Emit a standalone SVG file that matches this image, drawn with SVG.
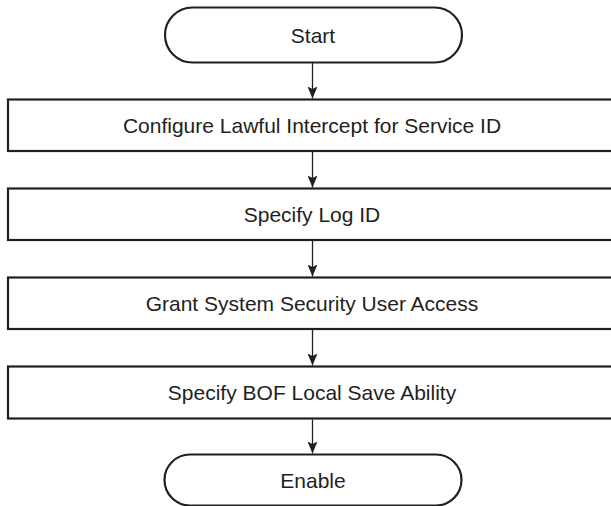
<svg xmlns="http://www.w3.org/2000/svg" width="611" height="506" viewBox="0 0 611 506">
<style>
.shape{fill:#fff;stroke:#231f20;stroke-width:2.2}
.lbl{font-family:"Liberation Sans",Arial,sans-serif;font-size:21px;fill:#231f20;text-anchor:middle}
.conn{stroke:#231f20;stroke-width:1.3;fill:none}
</style>
<defs>
<marker id="ah" markerWidth="12" markerHeight="10" refX="12" refY="5" orient="auto" markerUnits="userSpaceOnUse" viewBox="0 0 12 10">
<path d="M0,0 L12,5 L0,10 L2.5,5 Z" fill="#231f20"/>
</marker>
</defs>
<rect width="611" height="506" fill="#fff"/>
<g id="start"><rect class="shape" x="165" y="7.5" width="297" height="55" rx="27.5"/><text class="lbl" x="313" y="42.5">Start</text></g>
<g id="configure"><rect class="shape" x="8" y="99.5" width="610" height="51.5"/><text class="lbl" x="312" y="132.5">Configure Lawful Intercept for Service ID</text></g>
<g id="logid"><rect class="shape" x="8" y="188.5" width="610" height="51.5"/><text class="lbl" x="312" y="221.5">Specify Log ID</text></g>
<g id="grant"><rect class="shape" x="8" y="277.5" width="610" height="51.5"/><text class="lbl" x="312" y="310.5">Grant System Security User Access</text></g>
<g id="bof"><rect class="shape" x="8" y="366.5" width="610" height="52"/><text class="lbl" x="312" y="399.5">Specify BOF Local Save Ability</text></g>
<g id="enable"><rect class="shape" x="164.5" y="454.5" width="297" height="51" rx="25.5"/><text class="lbl" x="313" y="487.5">Enable</text></g>
<g id="connectors">
<line class="conn" x1="312.5" y1="63" x2="312.5" y2="98.5" marker-end="url(#ah)"/>
<line class="conn" x1="312.5" y1="152" x2="312.5" y2="187.5" marker-end="url(#ah)"/>
<line class="conn" x1="312.5" y1="241" x2="312.5" y2="276.5" marker-end="url(#ah)"/>
<line class="conn" x1="312.5" y1="330" x2="312.5" y2="365.5" marker-end="url(#ah)"/>
<line class="conn" x1="312.5" y1="419.5" x2="312.5" y2="453.5" marker-end="url(#ah)"/>
</g>
</svg>
